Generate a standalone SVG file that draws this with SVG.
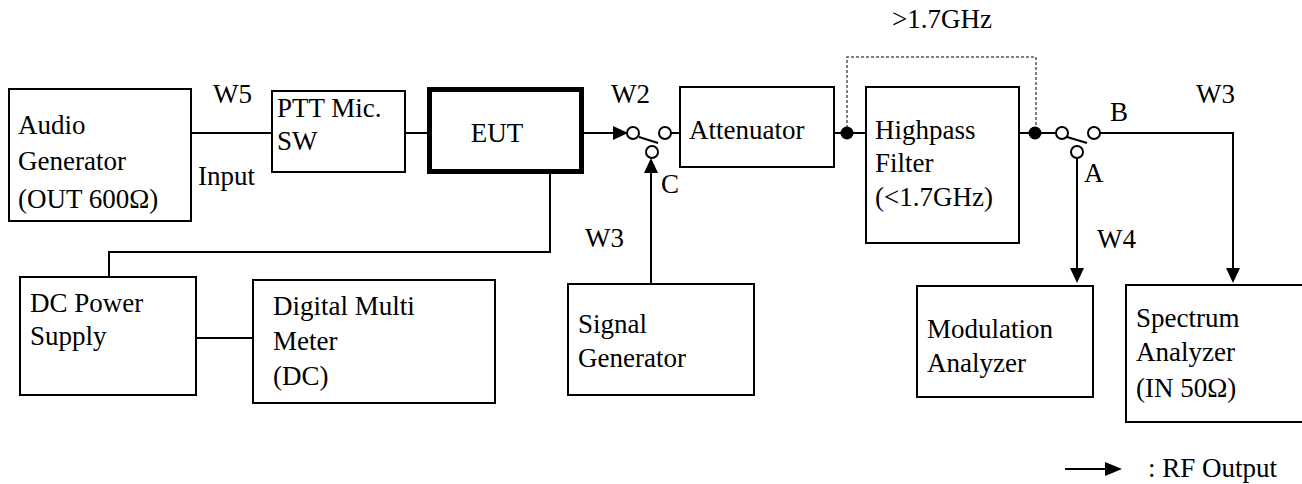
<svg xmlns="http://www.w3.org/2000/svg" width="1302" height="484" viewBox="0 0 1302 484">
<style>
  text { font-family: 'Liberation Serif', 'Times New Roman', serif; font-size: 27px; fill: #000; }
  .box { fill: #fff; stroke: #000; stroke-width: 2; }
  .thick { fill: #fff; stroke: #000; stroke-width: 5; }
  .ln { fill: none; stroke: #000; stroke-width: 2; }
  .dot { fill: none; stroke: #555; stroke-width: 1.5; stroke-dasharray: 3 2; }
  .term { fill: #fff; stroke: #000; stroke-width: 2; }
  .jn { fill: #000; }
  .ah { fill: #000; }
</style>
<g id="connectors">
  <line class="ln" x1="191" y1="133" x2="272" y2="133"/>
  <line class="ln" x1="405" y1="133" x2="429" y2="133"/>
  <line class="ln" x1="582" y1="133" x2="616" y2="133"/>
  <polygon class="ah" points="613,126 628,133 613,140"/>
  <line class="ln" x1="639" y1="137" x2="658" y2="143"/>
  <line class="ln" x1="671" y1="133" x2="680" y2="133"/>
  <line class="ln" x1="651" y1="284" x2="651" y2="170"/>
  <polygon class="ah" points="644,173 651,158 658,173"/>
  <polyline class="ln" points="550,172 550,252 109,252 109,277"/>
  <line class="ln" x1="196" y1="338" x2="253" y2="338"/>
  <line class="ln" x1="834" y1="133" x2="866" y2="133"/>
  <line class="ln" x1="1019" y1="133" x2="1056" y2="133"/>
  <polyline class="dot" points="847,133 847,57 1036,57 1036,133"/>
  <line class="ln" x1="1067" y1="137" x2="1087" y2="143"/>
  <polyline class="ln" points="1100,133 1233,133 1233,270"/>
  <polygon class="ah" points="1226,268 1233,283 1240,268"/>
  <line class="ln" x1="1077" y1="158" x2="1077" y2="270"/>
  <polygon class="ah" points="1070,268 1077,283 1084,268"/>
  <circle class="term" cx="633" cy="133" r="6"/>
  <circle class="term" cx="665" cy="133" r="6"/>
  <circle class="term" cx="652" cy="152" r="6"/>
  <circle class="term" cx="1062" cy="133" r="6"/>
  <circle class="term" cx="1094" cy="133" r="6"/>
  <circle class="term" cx="1077" cy="152" r="6"/>
  <circle class="jn" cx="847" cy="133" r="6.5"/>
  <circle class="jn" cx="1035" cy="133" r="6.5"/>
  <line class="ln" x1="1065" y1="469" x2="1108" y2="469"/>
  <polygon class="ah" points="1105,462 1122,469 1105,476"/>
</g>
<g id="labels">
  <text x="213" y="103">W5</text>
  <text x="198" y="185">Input</text>
  <text x="611" y="103">W2</text>
  <text x="661" y="193">C</text>
  <text x="585" y="247">W3</text>
  <text x="892" y="28">&gt;1.7GHz</text>
  <text x="1110" y="121">B</text>
  <text x="1084" y="182">A</text>
  <text x="1196" y="103">W3</text>
  <text x="1097" y="248">W4</text>
  <text x="1148" y="477">: RF Output</text>
</g>
<g id="audio-generator">
  <rect class="box" x="9" y="89" width="182" height="132"/>
  <text x="18" y="134">Audio</text>
  <text x="18" y="170">Generator</text>
  <text x="18" y="208">(OUT 600Ω)</text>
</g>
<g id="ptt-mic-sw">
  <rect class="box" x="272" y="91" width="133" height="81"/>
  <text x="277" y="117">PTT Mic.</text>
  <text x="277" y="150">SW</text>
</g>
<g id="eut">
  <rect class="thick" x="429.5" y="89.5" width="152" height="82"/>
  <text x="497" y="142" text-anchor="middle">EUT</text>
</g>
<g id="attenuator">
  <rect class="box" x="680" y="87" width="154" height="80"/>
  <text x="689" y="139">Attenuator</text>
</g>
<g id="highpass-filter">
  <rect class="box" x="866" y="87" width="153" height="156"/>
  <text x="875" y="139">Highpass</text>
  <text x="875" y="172">Filter</text>
  <text x="875" y="206">(&lt;1.7GHz)</text>
</g>
<g id="dc-power-supply">
  <rect class="box" x="20" y="277" width="176" height="118"/>
  <text x="30" y="312">DC Power</text>
  <text x="30" y="345">Supply</text>
</g>
<g id="digital-multi-meter">
  <rect class="box" x="253" y="280" width="242" height="123"/>
  <text x="273" y="315">Digital Multi</text>
  <text x="273" y="350">Meter</text>
  <text x="273" y="385">(DC)</text>
</g>
<g id="signal-generator">
  <rect class="box" x="568" y="284" width="186" height="111"/>
  <text x="578" y="333">Signal</text>
  <text x="578" y="367">Generator</text>
</g>
<g id="modulation-analyzer">
  <rect class="box" x="917" y="286" width="176" height="111"/>
  <text x="927" y="338">Modulation</text>
  <text x="927" y="372">Analyzer</text>
</g>
<g id="spectrum-analyzer">
  <rect class="box" x="1126" y="285" width="180" height="137"/>
  <text x="1136" y="327">Spectrum</text>
  <text x="1136" y="361">Analyzer</text>
  <text x="1136" y="397">(IN 50Ω)</text>
</g>
</svg>
